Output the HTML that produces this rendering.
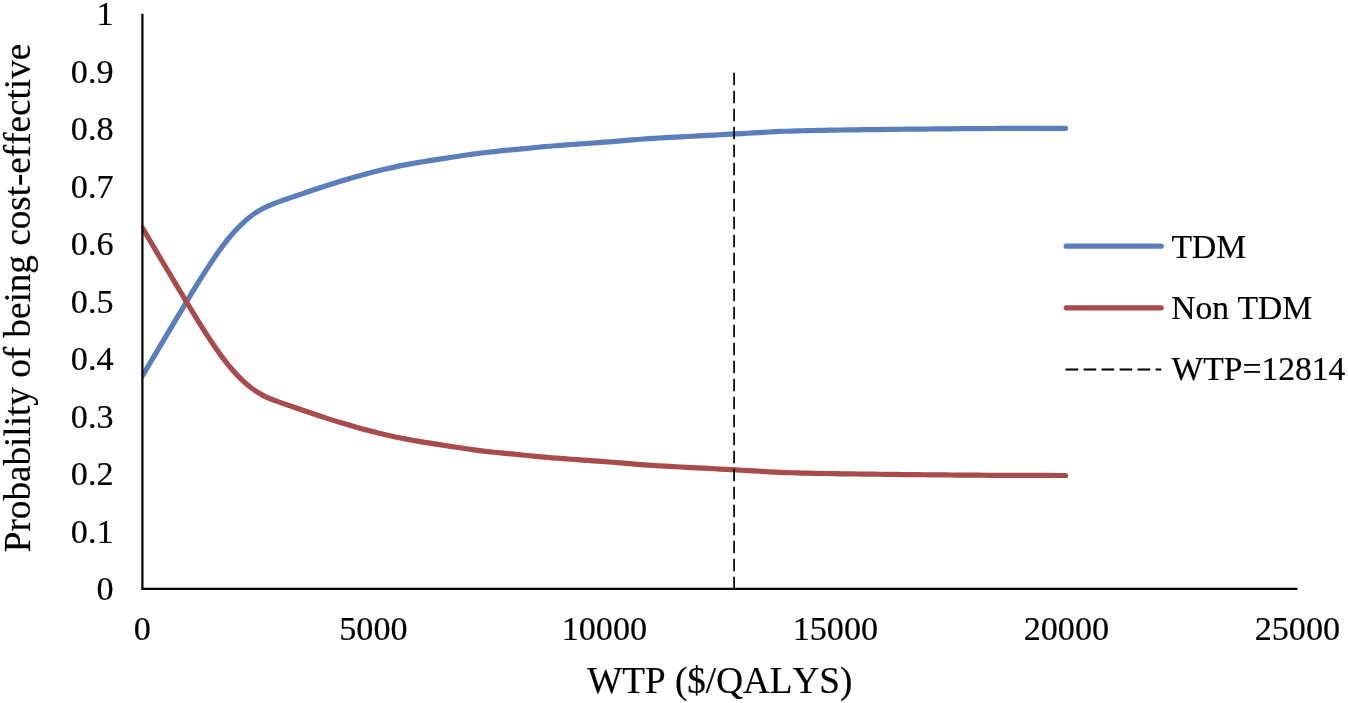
<!DOCTYPE html>
<html><head><meta charset="utf-8"><title>Cost-effectiveness acceptability curve</title>
<style>
html,body{margin:0;padding:0;background:#fff;}
body{width:1348px;height:703px;overflow:hidden;}
svg{display:block;}
text{font-family:"Liberation Serif","Times New Roman",serif;fill:#000;font-kerning:none;stroke:#000;stroke-width:0.2px;}
</style></head><body>
<svg width="1348" height="703" viewBox="0 0 1348 703">
<defs><clipPath id="pc"><rect x="141.6" y="0" width="1210" height="703"/></clipPath></defs>
<rect width="1348" height="703" fill="#fff"/>
<path d="M142.40 375.95 C144.23 372.85 149.73 363.54 153.40 357.35 C157.07 351.17 160.73 344.98 164.40 338.82 C168.07 332.66 171.73 326.52 175.40 320.40 C179.07 314.27 182.73 308.14 186.40 302.07 C190.07 296.01 193.73 289.89 197.40 283.99 C201.07 278.09 204.73 272.24 208.40 266.66 C212.07 261.08 215.73 255.59 219.40 250.52 C223.07 245.45 226.73 240.60 230.40 236.26 C234.07 231.91 237.73 227.97 241.40 224.43 C245.07 220.90 248.73 217.73 252.40 215.02 C256.07 212.32 259.73 210.12 263.40 208.18 C267.07 206.24 270.73 204.85 274.40 203.40 C278.07 201.96 281.73 200.77 285.40 199.50 C289.07 198.23 292.73 197.02 296.40 195.77 C300.07 194.52 303.73 193.23 307.40 191.98 C311.07 190.72 314.73 189.46 318.40 188.25 C322.07 187.03 325.73 185.86 329.40 184.69 C333.07 183.53 336.73 182.39 340.40 181.27 C344.07 180.15 347.73 179.05 351.40 177.98 C355.07 176.92 358.73 175.88 362.40 174.88 C366.07 173.88 369.73 172.92 373.40 171.99 C377.07 171.06 380.73 170.16 384.40 169.31 C388.07 168.45 391.73 167.63 395.40 166.86 C399.07 166.08 402.73 165.35 406.40 164.65 C410.07 163.96 413.73 163.31 417.40 162.67 C421.07 162.04 424.73 161.45 428.40 160.87 C432.07 160.28 435.73 159.73 439.40 159.16 C443.07 158.60 446.73 158.04 450.40 157.48 C454.07 156.92 457.73 156.34 461.40 155.79 C465.07 155.23 468.73 154.67 472.40 154.16 C476.07 153.65 479.73 153.18 483.40 152.74 C487.07 152.31 490.73 151.92 494.40 151.54 C498.07 151.15 501.73 150.80 505.40 150.44 C509.07 150.08 512.73 149.72 516.40 149.37 C520.07 149.01 523.73 148.65 527.40 148.30 C531.07 147.94 534.73 147.59 538.40 147.25 C542.07 146.91 545.73 146.58 549.40 146.26 C553.07 145.94 556.73 145.63 560.40 145.34 C564.07 145.05 567.73 144.78 571.40 144.52 C575.07 144.25 578.73 144.00 582.40 143.75 C586.07 143.49 589.73 143.25 593.40 142.98 C597.07 142.72 600.73 142.46 604.40 142.18 C608.07 141.90 611.73 141.61 615.40 141.31 C619.07 141.01 622.73 140.69 626.40 140.38 C630.07 140.08 633.73 139.77 637.40 139.48 C641.07 139.20 644.73 138.92 648.40 138.67 C652.07 138.42 655.73 138.20 659.40 137.98 C663.07 137.76 666.73 137.57 670.40 137.37 C674.07 137.17 677.73 136.99 681.40 136.80 C685.07 136.61 688.73 136.42 692.40 136.23 C696.07 136.04 699.73 135.84 703.40 135.64 C707.07 135.44 710.73 135.24 714.40 135.04 C718.07 134.84 721.73 134.64 725.40 134.45 C729.07 134.25 732.73 134.05 736.40 133.85 C740.07 133.65 743.73 133.45 747.40 133.25 C751.07 133.04 754.73 132.83 758.40 132.62 C762.07 132.41 765.73 132.19 769.40 132.00 C773.07 131.81 776.73 131.62 780.40 131.46 C784.07 131.30 787.73 131.17 791.40 131.05 C795.07 130.94 798.73 130.84 802.40 130.75 C806.07 130.66 809.73 130.58 813.40 130.50 C817.07 130.43 820.73 130.36 824.40 130.29 C828.07 130.22 831.73 130.16 835.40 130.10 C839.07 130.05 842.73 129.99 846.40 129.94 C850.07 129.89 853.73 129.84 857.40 129.79 C861.07 129.74 864.73 129.70 868.40 129.66 C872.07 129.61 875.73 129.57 879.40 129.53 C883.07 129.48 886.73 129.44 890.40 129.40 C894.07 129.36 897.73 129.31 901.40 129.27 C905.07 129.23 908.73 129.19 912.40 129.16 C916.07 129.12 919.73 129.08 923.40 129.04 C927.07 129.01 930.73 128.97 934.40 128.94 C938.07 128.90 941.73 128.86 945.40 128.83 C949.07 128.80 952.73 128.76 956.40 128.73 C960.07 128.70 963.73 128.67 967.40 128.65 C971.07 128.62 974.73 128.60 978.40 128.58 C982.07 128.56 985.73 128.54 989.40 128.52 C993.07 128.50 996.73 128.49 1000.40 128.47 C1004.07 128.46 1007.73 128.44 1011.40 128.43 C1015.07 128.42 1018.73 128.41 1022.40 128.39 C1026.07 128.38 1029.73 128.37 1033.40 128.36 C1037.07 128.35 1040.73 128.35 1044.40 128.34 C1048.07 128.33 1051.88 128.32 1055.40 128.32 C1058.92 128.31 1063.82 128.31 1065.50 128.30" fill="none" stroke="#5A7DBC" stroke-width="5.2" stroke-linecap="round" stroke-linejoin="round" clip-path="url(#pc)"/>
<path d="M142.40 227.85 C144.23 230.95 149.73 240.26 153.40 246.45 C157.07 252.63 160.73 258.82 164.40 264.98 C168.07 271.14 171.73 277.28 175.40 283.40 C179.07 289.53 182.73 295.66 186.40 301.73 C190.07 307.79 193.73 313.91 197.40 319.81 C201.07 325.71 204.73 331.56 208.40 337.14 C212.07 342.72 215.73 348.21 219.40 353.28 C223.07 358.35 226.73 363.20 230.40 367.54 C234.07 371.89 237.73 375.83 241.40 379.37 C245.07 382.90 248.73 386.07 252.40 388.78 C256.07 391.48 259.73 393.68 263.40 395.62 C267.07 397.56 270.73 398.95 274.40 400.40 C278.07 401.84 281.73 403.03 285.40 404.30 C289.07 405.57 292.73 406.78 296.40 408.03 C300.07 409.28 303.73 410.57 307.40 411.82 C311.07 413.08 314.73 414.34 318.40 415.55 C322.07 416.77 325.73 417.94 329.40 419.11 C333.07 420.27 336.73 421.41 340.40 422.53 C344.07 423.65 347.73 424.75 351.40 425.82 C355.07 426.88 358.73 427.92 362.40 428.92 C366.07 429.92 369.73 430.88 373.40 431.81 C377.07 432.74 380.73 433.64 384.40 434.49 C388.07 435.35 391.73 436.17 395.40 436.94 C399.07 437.72 402.73 438.45 406.40 439.15 C410.07 439.84 413.73 440.49 417.40 441.13 C421.07 441.76 424.73 442.35 428.40 442.93 C432.07 443.52 435.73 444.07 439.40 444.64 C443.07 445.20 446.73 445.76 450.40 446.32 C454.07 446.88 457.73 447.46 461.40 448.01 C465.07 448.57 468.73 449.13 472.40 449.64 C476.07 450.15 479.73 450.62 483.40 451.06 C487.07 451.49 490.73 451.88 494.40 452.26 C498.07 452.65 501.73 453.00 505.40 453.36 C509.07 453.72 512.73 454.08 516.40 454.43 C520.07 454.79 523.73 455.15 527.40 455.50 C531.07 455.86 534.73 456.21 538.40 456.55 C542.07 456.89 545.73 457.22 549.40 457.54 C553.07 457.86 556.73 458.17 560.40 458.46 C564.07 458.75 567.73 459.02 571.40 459.28 C575.07 459.55 578.73 459.80 582.40 460.05 C586.07 460.31 589.73 460.55 593.40 460.82 C597.07 461.08 600.73 461.34 604.40 461.62 C608.07 461.90 611.73 462.19 615.40 462.49 C619.07 462.79 622.73 463.11 626.40 463.42 C630.07 463.72 633.73 464.03 637.40 464.32 C641.07 464.60 644.73 464.88 648.40 465.13 C652.07 465.38 655.73 465.60 659.40 465.82 C663.07 466.04 666.73 466.23 670.40 466.43 C674.07 466.63 677.73 466.81 681.40 467.00 C685.07 467.19 688.73 467.38 692.40 467.57 C696.07 467.76 699.73 467.96 703.40 468.16 C707.07 468.36 710.73 468.56 714.40 468.76 C718.07 468.96 721.73 469.16 725.40 469.35 C729.07 469.55 732.73 469.75 736.40 469.95 C740.07 470.15 743.73 470.35 747.40 470.55 C751.07 470.76 754.73 470.97 758.40 471.18 C762.07 471.39 765.73 471.61 769.40 471.80 C773.07 471.99 776.73 472.18 780.40 472.34 C784.07 472.50 787.73 472.63 791.40 472.75 C795.07 472.86 798.73 472.96 802.40 473.05 C806.07 473.14 809.73 473.22 813.40 473.30 C817.07 473.37 820.73 473.44 824.40 473.51 C828.07 473.58 831.73 473.64 835.40 473.70 C839.07 473.75 842.73 473.81 846.40 473.86 C850.07 473.91 853.73 473.96 857.40 474.01 C861.07 474.06 864.73 474.10 868.40 474.14 C872.07 474.19 875.73 474.23 879.40 474.27 C883.07 474.32 886.73 474.36 890.40 474.40 C894.07 474.44 897.73 474.49 901.40 474.53 C905.07 474.57 908.73 474.61 912.40 474.64 C916.07 474.68 919.73 474.72 923.40 474.76 C927.07 474.79 930.73 474.83 934.40 474.86 C938.07 474.90 941.73 474.94 945.40 474.97 C949.07 475.00 952.73 475.04 956.40 475.07 C960.07 475.10 963.73 475.13 967.40 475.15 C971.07 475.18 974.73 475.20 978.40 475.22 C982.07 475.24 985.73 475.26 989.40 475.28 C993.07 475.30 996.73 475.31 1000.40 475.33 C1004.07 475.34 1007.73 475.36 1011.40 475.37 C1015.07 475.38 1018.73 475.39 1022.40 475.41 C1026.07 475.42 1029.73 475.43 1033.40 475.44 C1037.07 475.45 1040.73 475.45 1044.40 475.46 C1048.07 475.47 1051.88 475.48 1055.40 475.48 C1058.92 475.49 1063.82 475.49 1065.50 475.50" fill="none" stroke="#A94B4B" stroke-width="5.2" stroke-linecap="round" stroke-linejoin="round" clip-path="url(#pc)"/>
<line x1="734.1" y1="72.8" x2="734.1" y2="588.8" stroke="#000" stroke-width="1.7" stroke-dasharray="12.4 5.6"/>
<path d="M142.4 13.8 V588.8 H1297.4" fill="none" stroke="#000" stroke-width="2.2" stroke-linejoin="miter"/>
<text x="113.6" y="600.0" font-size="34.2" text-anchor="end">0</text>
<text x="113.6" y="542.5" font-size="34.2" text-anchor="end">0.1</text>
<text x="113.6" y="485.0" font-size="34.2" text-anchor="end">0.2</text>
<text x="113.6" y="427.5" font-size="34.2" text-anchor="end">0.3</text>
<text x="113.6" y="370.0" font-size="34.2" text-anchor="end">0.4</text>
<text x="113.6" y="312.5" font-size="34.2" text-anchor="end">0.5</text>
<text x="113.6" y="255.0" font-size="34.2" text-anchor="end">0.6</text>
<text x="113.6" y="197.5" font-size="34.2" text-anchor="end">0.7</text>
<text x="113.6" y="140.0" font-size="34.2" text-anchor="end">0.8</text>
<text x="113.6" y="82.5" font-size="34.2" text-anchor="end">0.9</text>
<text x="113.6" y="25.0" font-size="34.2" text-anchor="end">1</text>
<text x="142.4" y="639.6" font-size="34.2" text-anchor="middle">0</text>
<text x="373.4" y="639.6" font-size="34.2" text-anchor="middle">5000</text>
<text x="604.4" y="639.6" font-size="34.2" text-anchor="middle">10000</text>
<text x="835.4" y="639.6" font-size="34.2" text-anchor="middle">15000</text>
<text x="1066.4" y="639.6" font-size="34.2" text-anchor="middle">20000</text>
<text x="1297.4" y="639.6" font-size="34.2" text-anchor="middle">25000</text>
<text x="719.8" y="692.7" font-size="37.15" text-anchor="middle">WTP ($/QALYS)</text>
<text transform="translate(30.0 298) rotate(-90)" font-size="37.15" text-anchor="middle">Probability of being cost-effective</text>
<line x1="1066.2" y1="246.2" x2="1161.2" y2="246.2" stroke="#5A7DBC" stroke-width="5.2" stroke-linecap="round"/>
<line x1="1066.2" y1="307.8" x2="1161.2" y2="307.8" stroke="#A94B4B" stroke-width="5.2" stroke-linecap="round"/>
<line x1="1065.6" y1="369.5" x2="1161.3" y2="369.5" stroke="#000" stroke-width="1.8" stroke-dasharray="12.6 5.4"/>
<text x="1171.5" y="257.5" font-size="33.6">TDM</text>
<text x="1171.2" y="318.7" font-size="33.6">Non TDM</text>
<text x="1171.6" y="380.3" font-size="33.6">WTP=12814</text>
</svg>
</body></html>
